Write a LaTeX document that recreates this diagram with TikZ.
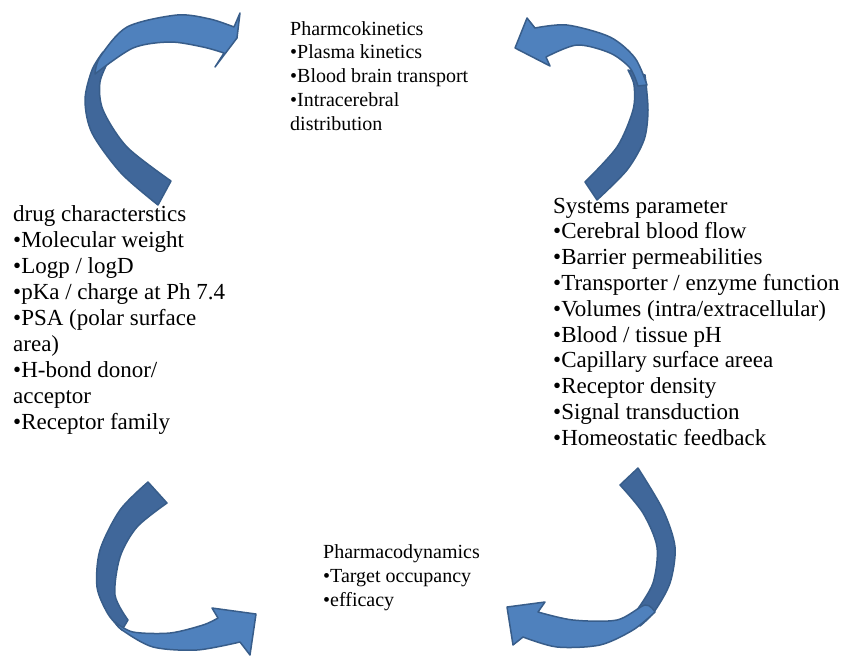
\documentclass[tikz,border=0pt]{standalone}
\usepackage{fontspec}
\setmainfont{Liberation Serif}
\definecolor{lightblue}{RGB}{79,129,189}
\definecolor{darkblue}{RGB}{64,103,154}
\definecolor{edgeblue}{RGB}{56,93,138}
\begin{document}
\begin{tikzpicture}[x=1pt,y=-1pt,
  light/.style={fill=lightblue, draw=edgeblue, line width=1.5pt, line join=round},
  dark/.style={fill=darkblue, draw=edgeblue, line width=1.5pt, line join=round},
  lst/.style={anchor=base west, inner sep=0pt, font=\fontsize{23}{26}\selectfont},
  hdr/.style={anchor=base west, inner sep=0pt, font=\fontsize{20}{24}\selectfont}]
\path[use as bounding box] (0,0) rectangle (845,657);

% ---- top-left arrow
\path[dark] plot[smooth] coordinates {(158,205) (121,173) (92,133) (85,100) (92,70) (103,52)}
  -- plot[smooth] coordinates {(110,58) (100,82) (103,110) (127,147) (171,181)} -- cycle;
\path[light] plot[smooth] coordinates {(95,74) (100,57) (127,27) (177,15) (210,19) (234,27)}
  -- (240,13) -- (237,38) -- (215,67) -- (224,53)
  -- plot[smooth] coordinates {(224,53) (203,47) (170,42) (133,48) (95,74)} -- cycle;

% ---- top-right arrow
\path[dark] plot[smooth] coordinates {(645,75) (648,110) (644,140) (627,170) (597,200)}
  -- plot[smooth] coordinates {(585,182) (617,147) (633,110) (634,85) (628,70)} -- cycle;
\path[light] (515,48) -- (527,18) -- (535,28)
  -- plot[smooth] coordinates {(535,28) (567,25) (610,37) (635,58) (647,85)}
  -- plot[smooth] coordinates {(638,86) (630,68) (610,53) (577,45) (546,57)}
  -- (550,66) -- cycle;

% ---- bottom-left arrow
\path[dark] plot[smooth] coordinates {(148,482) (120,510) (100,550) (97,587) (108,614) (122,630)}
  -- plot[smooth] coordinates {(128,620) (115,595) (120,557) (137,527) (167,503)} -- cycle;
\path[light] plot[smooth] coordinates {(115,622) (122,630) (153,647) (197,650) (240,642)}
  -- (250,655) -- (256,614) -- (212,608) -- (218,618)
  -- plot[smooth] coordinates {(218,618) (203,625) (170,633) (133,632) (115,622)} -- cycle;

% ---- bottom-right arrow
\path[dark] plot[smooth] coordinates {(638,468) (663,510) (675,547) (670,583) (654,612) (640,626)}
  -- plot[smooth] coordinates {(637,610) (653,583) (657,547) (643,513) (620,485)} -- cycle;
\path[light] plot[smooth] coordinates {(655,612) (633,630) (600,645) (557,647) (523,637)}
  -- (513,645) -- (507,607) -- (545,602) -- (538,612)
  -- plot[smooth] coordinates {(538,612) (573,620) (617,620) (645,605) (655,612)} -- cycle;

% ---- texts
\foreach [count=\i from 0] \t in {{Pharmcokinetics},{•Plasma kinetics},{•Blood brain transport},{•Intracerebral},{distribution}}
  \node[hdr] (pk\i) at (290,{35+23.75*\i}) {\t};
\foreach [count=\i from 0] \t in {{Pharmacodynamics},{•Target occupancy},{•efficacy}}
  \node[hdr] (pd\i) at (323,{558.3+24.2*\i}) {\t};
\foreach [count=\i from 0] \t in {{drug characterstics},{•Molecular weight},{•Logp / logD},{•pKa / charge at Ph 7.4},{•PSA (polar surface},{area)},{•H-bond donor/},{acceptor},{•Receptor family}}
  \node[lst] (dc\i) at (13,{221+26*\i}) {\t};
\foreach [count=\i from 0] \t in {{Systems parameter},{•Cerebral blood flow},{•Barrier permeabilities},{•Transporter / enzyme function},{•Volumes (intra/extracellular)},{•Blood / tissue pH},{•Capillary surface areea},{•Receptor density},{•Signal transduction},{•Homeostatic feedback}}
  \node[lst] (sp\i) at (553,{213+25.8*\i}) {\t};
\end{tikzpicture}
\end{document}
